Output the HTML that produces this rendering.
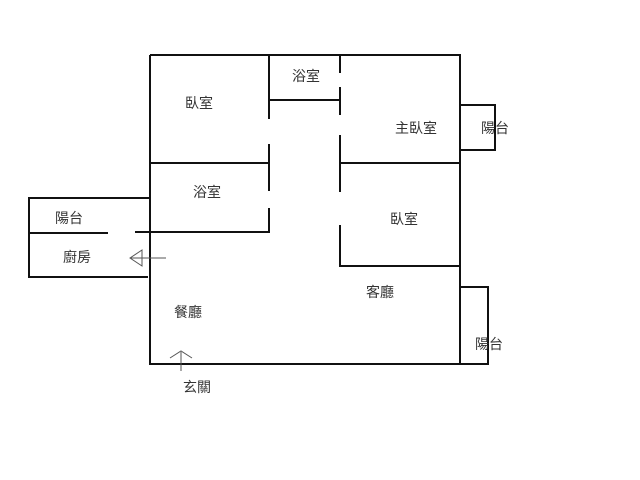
<!DOCTYPE html>
<html><head><meta charset="utf-8"><style>
html,body{margin:0;padding:0;background:#fff;width:640px;height:480px;overflow:hidden}
svg text{font-family:"Liberation Sans","Noto Sans CJK TC",sans-serif;font-size:14px;fill:#333;text-anchor:middle;dominant-baseline:central}
</style></head><body>
<svg width="640" height="480" viewBox="0 0 640 480">
<g stroke="#111" stroke-width="2" fill="none">
<line x1="150" y1="55" x2="461" y2="55"/>
<line x1="150" y1="55" x2="150" y2="365"/>
<line x1="150" y1="364" x2="489" y2="364"/>
<line x1="460" y1="55" x2="460" y2="364"/>
<line x1="269" y1="55" x2="269" y2="119"/>
<line x1="269" y1="144" x2="269" y2="191"/>
<line x1="269" y1="208" x2="269" y2="233"/>
<line x1="150" y1="163" x2="269" y2="163"/>
<line x1="269" y1="100" x2="340" y2="100"/>
<line x1="135" y1="232" x2="270" y2="232"/>
<line x1="340" y1="55" x2="340" y2="73"/>
<line x1="340" y1="87" x2="340" y2="115"/>
<line x1="340" y1="135" x2="340" y2="192"/>
<line x1="340" y1="225" x2="340" y2="267"/>
<line x1="340" y1="163" x2="460" y2="163"/>
<line x1="340" y1="266" x2="460" y2="266"/>
<polyline points="460,105 495,105 495,150 460,150"/>
<polyline points="460,287 488,287 488,365"/>
<polyline points="149,198 29,198 29,278"/>
<line x1="29" y1="233" x2="108" y2="233"/>
<line x1="29" y1="277" x2="148" y2="277"/>
</g>
<g stroke="#555" stroke-width="1" fill="none">
<line x1="131" y1="258" x2="166" y2="258"/>
<polygon points="130,258 142,250 142,266"/>
<line x1="181" y1="352" x2="181" y2="371"/>
<polyline points="170,358 181,351 192,358"/>
</g>
<text x="199" y="103">臥室</text>
<text x="306" y="76">浴室</text>
<text x="416" y="128">主臥室</text>
<text x="495" y="128">陽台</text>
<text x="207" y="192">浴室</text>
<text x="404" y="219">臥室</text>
<text x="69" y="218">陽台</text>
<text x="77" y="257">廚房</text>
<text x="380" y="292">客廳</text>
<text x="188" y="312">餐廳</text>
<text x="489" y="344">陽台</text>
<text x="197" y="387">玄關</text>
</svg>
</body></html>
